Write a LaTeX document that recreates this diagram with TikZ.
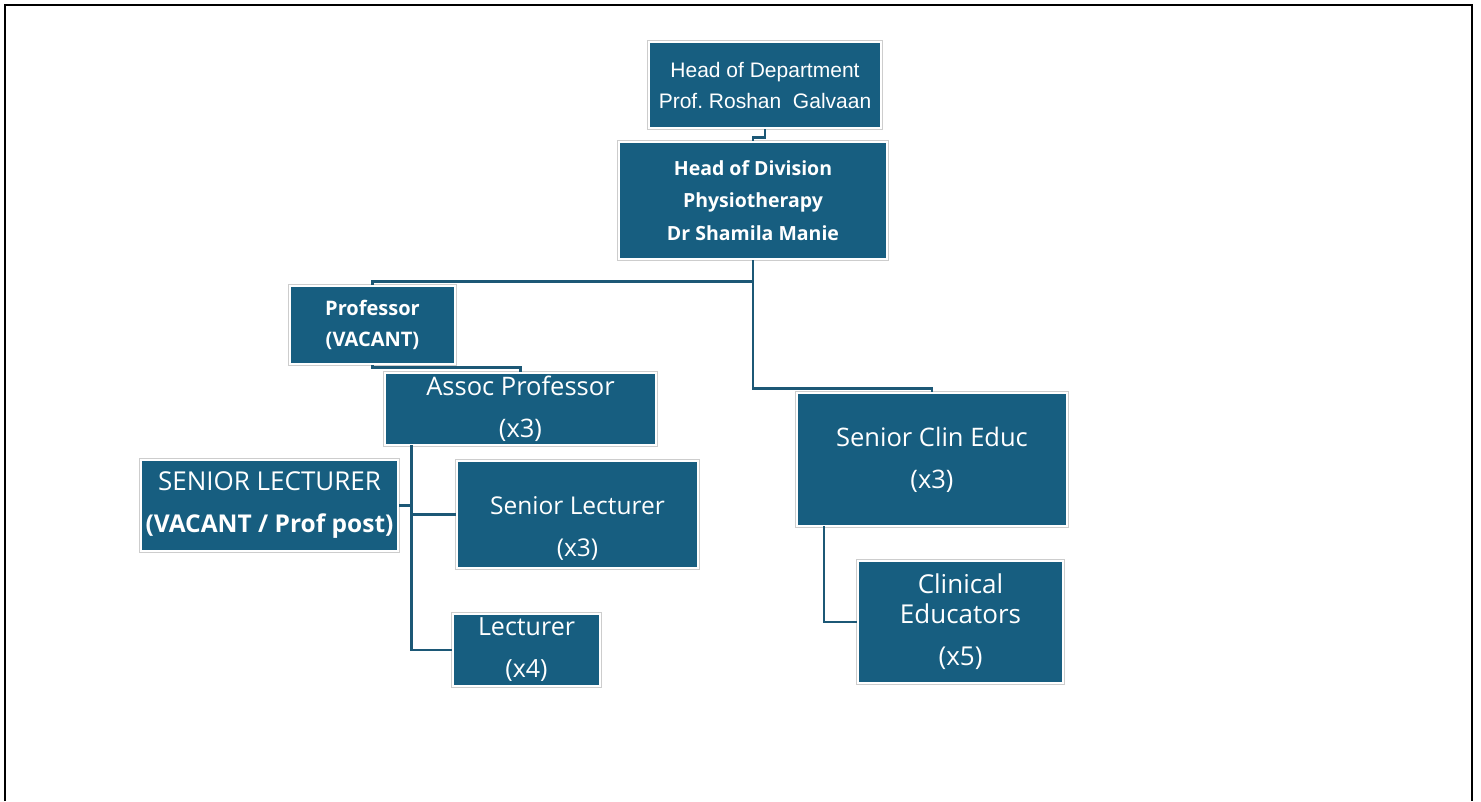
\documentclass[tikz,border=0pt]{standalone}
\usepackage{fontspec}
\setmainfont{Open Sans}
\newfontfamily\arialf{Liberation Sans}
\definecolor{boxblue}{RGB}{23,94,128}
\definecolor{linkblue}{RGB}{28,88,118}
\definecolor{edgegray}{RGB}{205,205,205}
\begin{document}
\begin{tikzpicture}[x=1pt,y=-1pt,
  orgbox/.style={rectangle, fill=boxblue, draw=white, line width=2.5pt,
    preaction={draw=edgegray, line width=4.5pt},
    text=white, align=center, inner sep=0pt},
  link/.style={draw=linkblue, line width=2.5pt},
  txt/.style={text=white, align=center, inner sep=0pt}]
\useasboundingbox (0,0) rectangle (1481,801);
% frame
\draw[line width=2pt] (5,801) -- (5,5) -- (1472,5) -- (1472,801);

\node[orgbox, minimum width=232pt, minimum height=86pt,
  font={\arialf\fontsize{21}{31}\selectfont}] (hod) at (765,85)
  {Head of Department\\Prof.\ Roshan\ \ Galvaan};
\node[orgbox, minimum width=268pt, minimum height=117pt,
  font={\bfseries\fontsize{19.5}{32.5}\selectfont}] (hodiv) at (753,200.5)
  {Head of Division\\Physiotherapy\\Dr Shamila Manie};
\node[orgbox, minimum width=165pt, minimum height=78pt,
  font={\bfseries\fontsize{20}{31}\selectfont}] (prof) at (372.5,325)
  {Professor\\(VACANT)};
\node[orgbox, minimum width=271pt, minimum height=72pt,
  font={\fontsize{25.5}{42}\selectfont}] (assoc) at (520.5,409)
  {Assoc Professor\\(x3)};
\node[orgbox, minimum width=257pt, minimum height=91pt,
  font={\fontsize{24.5}{42}\selectfont}] (slvac) at (269.5,505.5)
  {{\fontsize{26}{42}\selectfont SENIOR LECTURER}\\\textbf{(VACANT / Prof post)}};
\node[orgbox, minimum width=241pt, minimum height=107pt] (sl) at (577.5,514.5) {};
\node[txt, font={\fontsize{24.5}{42}\selectfont}] (sltext) at (577.5,528)
  {Senior Lecturer\\(x3)};
\node[orgbox, minimum width=147pt, minimum height=72pt,
  font={\fontsize{25}{42}\selectfont}] (lect) at (526.5,650)
  {Lecturer\\(x4)};
\node[orgbox, minimum width=270pt, minimum height=133pt,
  font={\fontsize{25.5}{42}\selectfont}] (sce) at (932,459.5)
  {Senior\ Clin Educ\\(x3)};
\node[orgbox, minimum width=205pt, minimum height=122pt,
  font={\fontsize{26}{30}\selectfont}] (ce) at (960.5,622)
  {Clinical\\Educators\\[12pt](x5)};

% connectors
\draw[link] (hod.south) -- ++(0,8) -| (hodiv.north);
\draw[link] (hodiv.south) -- ++(0,21) -| (prof.north);
\draw[link] (hodiv.south) -- ++(0,128) -| (sce.north);
\draw[link] (prof.south) -- ++(0,2) -| (assoc.north);
\coordinate (trunk) at (411.5,445);
\draw[link] (trunk) |- (lect.west);
\draw[link] (trunk |- sl.west) -- (sl.west);
\draw[link] (slvac.east) -- (slvac.east -| trunk);
\coordinate (scetrunk) at (824,526);
\draw[link] (scetrunk) |- (ce.west);
\end{tikzpicture}
\end{document}
